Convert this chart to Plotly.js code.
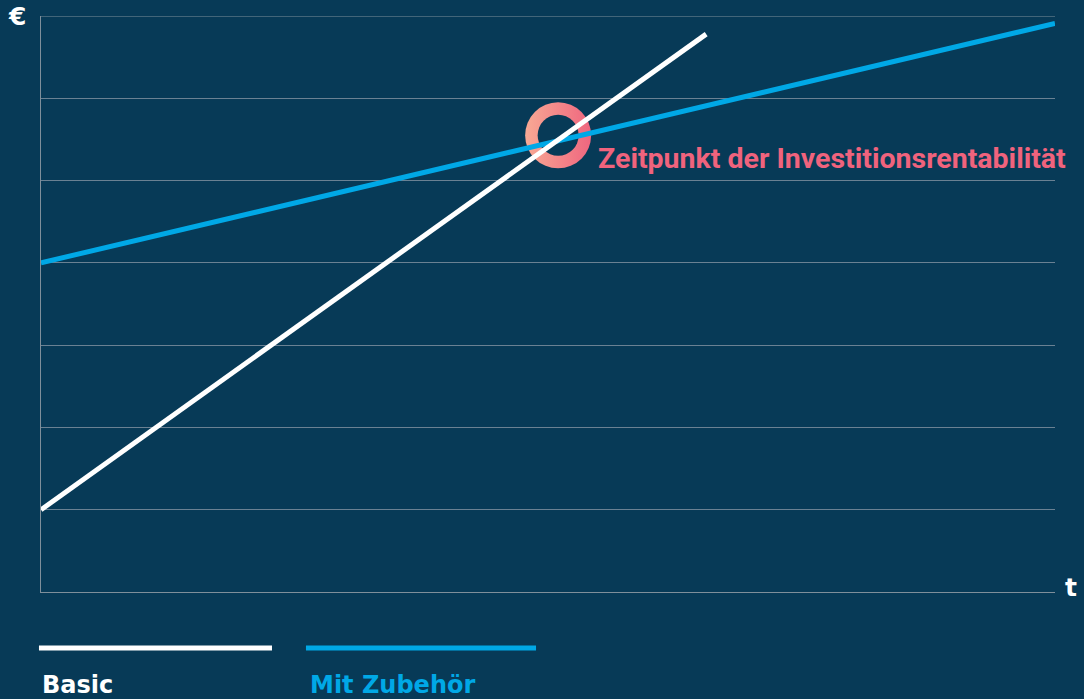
<!DOCTYPE html>
<html>
<head>
<meta charset="utf-8">
<script src="https://cdn.plot.ly/plotly-3.0.1.min.js"></script>
<style>
html,body{margin:0;padding:0;background:#073a57;}
#chart{width:1084px;height:699px;}
</style>
</head>
<body>
<div id="chart"></div>
<script>
// Data (x: time units, y: cost units)
const seriesNames = ["Basic", "Mit Zubehör"];
const basicX = [0, 6.56];
const basicY = [1.0, 6.78];
const zubehoerX = [0, 10];
const zubehoerY = [4.0, 6.91];
const roiX = [5.10];
const roiY = [5.55];
const roiLabel = "Zeitpunkt der Investitionsrentabilität";
const yAxisLabel = "€";
const xAxisLabel = "t";

const BG = "#073a57";
const WHITE = "#ffffff";
const BLUE = "#00a8e6";
const PINK = "#f0637d";

const traces = [
  {x: roiX, y: roiY, mode: "markers", hoverinfo: "skip", showlegend: false,
   marker: {size: 66, color: "#f8a994", line: {width: 0},
            gradient: {type: "horizontal", color: "#ef667f"}}},
  {x: roiX, y: roiY, mode: "markers", hoverinfo: "skip", showlegend: false,
   marker: {size: 41, color: BG, line: {width: 0}}},
  {x: zubehoerX, y: zubehoerY, mode: "lines", name: seriesNames[1], showlegend: false,
   line: {color: BLUE, width: 5}},
  {x: basicX, y: basicY, mode: "lines", name: seriesNames[0], showlegend: false,
   line: {color: WHITE, width: 5}}
];

const layout = {
  width: 1084, height: 699,
  paper_bgcolor: BG, plot_bgcolor: BG,
  margin: {l: 41, r: 29, t: 16, b: 107},
  showlegend: false,
  xaxis: {range: [0, 10], showgrid: false, zeroline: false, showticklabels: false,
          showline: true, linecolor: "#7f8f9b", linewidth: 1, ticks: ""},
  yaxis: {range: [0, 7], dtick: 1, tick0: 0, showgrid: true, gridcolor: "#6a8193", gridwidth: 1,
          zeroline: false, showticklabels: false, showline: true, linecolor: "#7f8f9b",
          linewidth: 1, ticks: ""},
  shapes: [
    {type: "line", xref: "x", yref: "y", x0: 0, x1: 10, y0: 7, y1: 7,
     line: {color: "#7f8f9b", width: 1}},
    {type: "line", xref: "paper", yref: "paper", x0: -0.002, x1: 0.2278, y0: -0.0972, y1: -0.0972,
     line: {color: WHITE, width: 5}},
    {type: "line", xref: "paper", yref: "paper", x0: 0.2613, x1: 0.4882, y0: -0.0972, y1: -0.0972,
     line: {color: BLUE, width: 5}}
  ],
  annotations: [
    {x: roiX[0], y: roiY[0], xref: "x", yref: "y", text: "<b>" + roiLabel + "</b>",
     showarrow: false, xanchor: "left", yanchor: "middle", xshift: 38, yshift: -23,
     font: {family: "Roboto, 'Noto Sans', sans-serif", size: 28.5, color: PINK}},
    {xref: "paper", yref: "paper", x: -0.0237, y: 1.0, text: "<b>" + yAxisLabel + "</b>",
     showarrow: false, xanchor: "center", yanchor: "middle",
     font: {family: "'DejaVu Sans', sans-serif", size: 25, color: WHITE}},
    {xref: "paper", yref: "paper", x: 1.0158, y: 0.007, text: "<b>" + xAxisLabel + "</b>",
     showarrow: false, xanchor: "center", yanchor: "middle",
     font: {family: "'DejaVu Sans', sans-serif", size: 25, color: WHITE}},
    {xref: "paper", yref: "paper", x: -0.001, y: -0.1835, text: "<b>" + seriesNames[0] + "</b>",
     showarrow: false, xanchor: "left", yanchor: "bottom", yshift: -3,
     font: {family: "'DejaVu Sans', sans-serif", size: 24, color: WHITE}},
    {xref: "paper", yref: "paper", x: 0.2633, y: -0.1835, text: "<b>" + seriesNames[1] + "</b>",
     showarrow: false, xanchor: "left", yanchor: "bottom", yshift: -3,
     font: {family: "'DejaVu Sans', sans-serif", size: 24, color: BLUE}}
  ]
};

Plotly.newPlot("chart", traces, layout, {displayModeBar: false, staticPlot: true});
</script>
</body>
</html>
